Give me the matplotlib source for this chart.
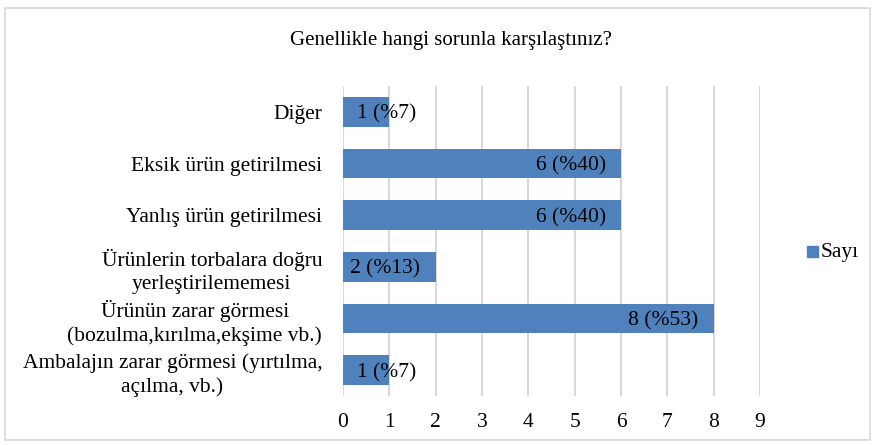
import numpy as np
import matplotlib.pyplot as plt
from matplotlib.patches import Rectangle
from matplotlib.transforms import offset_copy

# data
categories = ['Ambalajın zarar görmesi (yırtılma,\naçılma, vb.)',
              'Ürünün zarar görmesi\n(bozulma,kırılma,ekşime vb.)',
              'Ürünlerin torbalara doğru\nyerleştirilememesi',
              'Yanlış ürün getirilmesi',
              'Eksik ürün getirilmesi',
              'Diğer']
counts = [1, 8, 2, 6, 6, 1]
percents = [7, 53, 13, 40, 40, 7]
xticks = list(range(0, 10))

plt.rcParams['font.family'] = ['Liberation Serif', 'DejaVu Serif']
bar_color = '#4f81bd'
grid_color = '#d9d9d9'
fs = 15.5

fig = plt.figure(figsize=(8.76, 4.45), dpi=100)
ax = fig.add_axes([343/876, 1-396/445, (760-343)/876, (396-86)/445])

y = np.arange(len(categories))
ax.barh(y, counts, height=0.57, color=bar_color, zorder=3)

# value labels sit a touch lower than the bbox centre
tr = offset_copy(ax.transData, fig=fig, x=0, y=-2.5, units='dots')
for yi, c, p in zip(y, counts, percents):
    lab = '%d (%%%d)' % (c, p)
    if c < 1.5:
        ax.text(0.3, yi, lab, ha='left', va='center', fontsize=fs, zorder=4, transform=tr)
    else:
        ax.text(c - 0.33, yi, lab, ha='right', va='center', fontsize=fs, zorder=4, transform=tr)

ax.set_xlim(0, 9)
ax.set_ylim(-0.5, len(categories) - 0.5)
ax.set_xticks(xticks)
ax.set_yticks(y)
ax.set_yticklabels(categories, fontsize=fs)
for t in ax.get_yticklabels():
    t.set_multialignment('center')
    t.set_linespacing(1.3)
ax.tick_params(axis='both', length=0, labelsize=fs)
ax.tick_params(axis='y', pad=15)
ax.tick_params(axis='x', pad=12)
ax.xaxis.grid(True, color=grid_color, linewidth=1.5, zorder=0)
for s in ax.spines.values():
    s.set_visible(False)

fig.text(451/876, 1-40/445, 'Genellikle hangi sorunla karşılaştınız?',
         ha='center', va='center', fontsize=15)

# legend
fig.patches.append(Rectangle((807/876, 1-257/445), 11/876, 11/445,
                             transform=fig.transFigure, color=bar_color))
fig.text(821/876, 1-253/445, 'Sayı', ha='left', va='center', fontsize=fs)

# chart border
fig.patches.append(Rectangle((5/876, 5/445), 865/876, 1-13/445, transform=fig.transFigure,
                             fill=False, edgecolor='#d9d9d9', linewidth=1.2))

plt.savefig('out.png', dpi=100)
